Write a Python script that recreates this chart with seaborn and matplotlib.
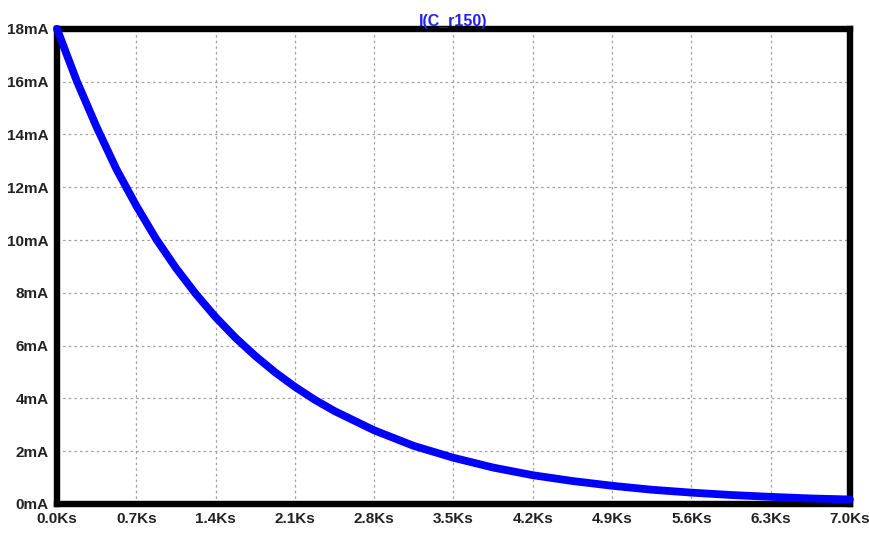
import pandas as pd
import matplotlib
matplotlib.use("Agg")
import matplotlib.pyplot as plt
import seaborn as sns

# time in Ks, current in mA
t_ks = [0.0, 0.175, 0.35, 0.525, 0.7, 0.875, 1.05, 1.225, 1.4, 1.575, 1.75,
        1.925, 2.1, 2.275, 2.45, 2.8, 3.15, 3.5, 3.85, 4.2, 4.55, 4.9,
        5.25, 5.6, 5.95, 6.3, 6.65, 7.0]
i_ma = [18.0, 16.02, 14.28, 12.68, 11.30, 10.04, 8.94, 7.96, 7.08, 6.30, 5.61,
        4.99, 4.44, 3.95, 3.52, 2.79, 2.20, 1.75, 1.38, 1.09, 0.87, 0.69,
        0.54, 0.43, 0.34, 0.27, 0.21, 0.17]

x_ticks = [0.0, 0.7, 1.4, 2.1, 2.8, 3.5, 4.2, 4.9, 5.6, 6.3, 7.0]
y_ticks = [0, 2, 4, 6, 8, 10, 12, 14, 16, 18]
trace_name = "I(C_r150)"

df = pd.DataFrame({"t": t_ks, "i": i_ma})

sns.set_style("white")
plt.rcParams["font.family"] = ["Liberation Sans Narrow", "Liberation Sans", "DejaVu Sans"]
plt.rcParams["font.weight"] = "bold"

fig = plt.figure(figsize=(8.7, 5.35), dpi=100)
ax = fig.add_axes([0.0655, 0.058, 0.9115, 0.888])

sns.lineplot(data=df, x="t", y="i", color="#0000ff", linewidth=5.6, ax=ax,
             clip_on=False, zorder=5)

ax.set_xlim(0, 7.0)
ax.set_ylim(0, 18)
ax.set_xticks(x_ticks)
ax.set_yticks(y_ticks)
ax.set_xticklabels([f"{v:.1f}Ks" for v in x_ticks])
ax.set_yticklabels([f"{v}mA" for v in y_ticks])
ax.set_xlabel("")
ax.set_ylabel("")

ax.grid(True, color="#a0a0a0", linestyle=(0, (2, 2.5)), linewidth=0.9)
for s in ax.spines.values():
    s.set_linewidth(4.6)
    s.set_color("black")
    s.set_visible(True)

ax.tick_params(axis="both", direction="out", length=5.5, width=4, color="black",
               labelsize=11, labelcolor="#222222", pad=0.5)

ax.set_title(trace_name, color="#2222ee", fontsize=11.5, fontweight="bold", pad=2)

fig.savefig("out.png", dpi=100)
